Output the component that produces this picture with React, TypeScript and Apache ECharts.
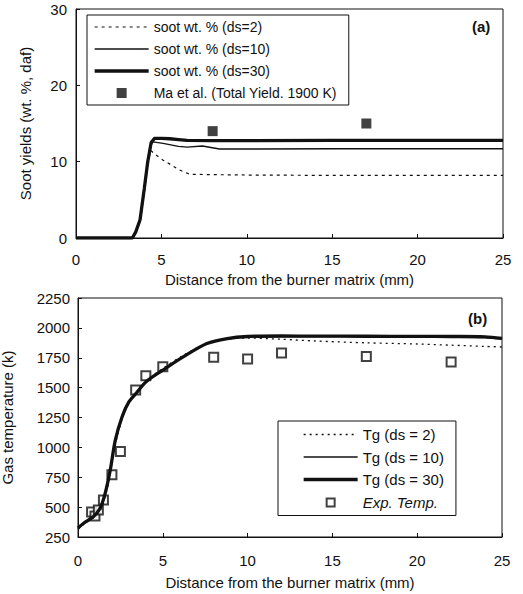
import React, { useEffect, useRef } from "react";
import * as echarts from "echarts";

// ---------- Panel (a): soot yields ----------
const distA2 = [0, 3.3, 3.5, 3.75, 4.0, 4.2, 4.37, 4.6, 5.1, 6.07, 6.66, 8, 10, 15, 20, 25];
const sootDs2 = [0, 0, 0.7, 2.1, 6.0, 9.5, 11.5, 11.0, 10.2, 8.9, 8.35, 8.3, 8.25, 8.2, 8.2, 8.2];
const distA10 = [0, 3.3, 3.5, 3.75, 4.0, 4.2, 4.4, 4.5, 5.1, 6.0, 6.5, 7.4, 8.4, 10, 15, 20, 25];
const sootDs10 = [0, 0, 0.7, 2.2, 6.2, 9.8, 12.2, 12.6, 12.4, 12.0, 11.9, 12.05, 11.66, 11.65, 11.7, 11.7, 11.7];
const distA30 = [0, 3.3, 3.5, 3.75, 4.0, 4.2, 4.4, 4.6, 5.0, 5.5, 6.0, 6.5, 8, 10, 15, 20, 25];
const sootDs30 = [0, 0, 0.8, 2.4, 6.5, 10.0, 12.5, 13.05, 13.05, 13.0, 12.9, 12.8, 12.75, 12.75, 12.8, 12.8, 12.8];
const maDist = [8, 17];
const maYield = [14, 15];

// ---------- Panel (b): gas temperature ----------
const distB = [0, 0.33, 0.9, 1.3, 1.6, 1.9, 2.2, 2.6, 3.0, 3.5, 4.0, 5.0, 6.2, 7.6, 8.8, 10, 12, 14, 17, 20, 22, 24, 25];
const tgDs2 = [315, 355, 410, 470, 585, 770, 1020, 1235, 1370, 1465, 1555, 1660, 1770, 1870, 1905, 1915, 1905, 1890, 1875, 1865, 1855, 1845, 1840];
const tgDs10 = [320, 360, 415, 480, 600, 790, 1040, 1245, 1375, 1460, 1545, 1645, 1757, 1868, 1910, 1925, 1928, 1928, 1927, 1925, 1924, 1920, 1908];
const tgDs30 = [325, 365, 420, 490, 615, 810, 1060, 1256, 1380, 1465, 1548, 1646, 1757, 1869, 1911, 1928, 1932, 1931, 1930, 1929, 1928, 1925, 1912];
const expDist = [0.8, 1.0, 1.2, 1.5, 2.0, 2.5, 3.4, 4.0, 5.0, 8.0, 10.0, 12.0, 17.0, 22.0];
const expTemp = [460, 425, 475, 560, 770, 965, 1480, 1600, 1675, 1755, 1740, 1790, 1760, 1715];

const xTitle = "Distance from the burner matrix (mm)";
const yTitleA = "Soot yields (wt. %, daf)";
const yTitleB = "Gas temperature (k)";
const namesA = ["soot wt. % (ds=2)", "soot wt. % (ds=10)", "soot wt. % (ds=30)", "Ma et al. (Total Yield. 1900 K)"];
const namesB = ["Tg (ds = 2)", "Tg (ds = 10)", "Tg (ds = 30)", "Exp. Temp."];

const zip = (xs: number[], ys: number[]) => xs.map((x, i) => [x, ys[i]]);

const FONT = "Liberation Sans";
const BLACK = "#111";

const STYLE_DS2_A = { color: BLACK, width: 1.2, type: [3, 4] as number[] };
const STYLE_DS2_B = { color: BLACK, width: 1.3, type: [2, 4] as number[] };
const STYLE_DS10 = { color: BLACK, width: 1.4, type: "solid" };
const STYLE_DS30 = { color: BLACK, width: 3.3, type: "solid" };

function axisCommon() {
  return {
    axisLine: { show: true, lineStyle: { color: BLACK, width: 1 } },
    axisTick: { show: true, inside: true, length: 4, lineStyle: { color: BLACK } },
    splitLine: { show: false },
    axisLabel: { color: BLACK, fontFamily: FONT, fontSize: 15, formatter: (v: number) => String(v) },
    nameTextStyle: { color: BLACK, fontFamily: FONT, fontSize: 15 },
  };
}

const lineLegend = (name: string, lineStyle: any) => ({ name, itemStyle: { opacity: 0 }, lineStyle });

export default function App() {
  const ref = useRef<HTMLDivElement>(null);
  useEffect(() => {
    if (!ref.current) return;
    const chart = echarts.init(ref.current, undefined, { renderer: "svg" });
    const c = axisCommon();
    chart.setOption({
      animation: false,
      backgroundColor: "#fff",
      grid: [
        { left: 76, top: 9, width: 427, height: 229, show: true, borderColor: BLACK, borderWidth: 1, outerBoundsMode: "none", containLabel: false },
        { left: 78, top: 298, width: 424, height: 239, show: true, borderColor: BLACK, borderWidth: 1, outerBoundsMode: "none", containLabel: false },
      ],
      xAxis: [
        {
          ...c, type: "value", gridIndex: 0, min: 0, max: 25, interval: 5,
          axisLabel: { ...c.axisLabel, margin: 14 },
          name: xTitle, nameLocation: "middle", nameGap: 34,
        },
        {
          ...c, type: "value", gridIndex: 1, min: 0, max: 25, interval: 5,
          axisLabel: { ...c.axisLabel, margin: 16 },
          name: xTitle, nameLocation: "middle", nameGap: 38,
        },
      ],
      yAxis: [
        {
          ...c, type: "value", gridIndex: 0, min: 0, max: 30, interval: 10,
          axisLabel: { ...c.axisLabel, margin: 9 },
          name: yTitleA, nameLocation: "middle", nameGap: 43,
        },
        {
          ...c, type: "value", gridIndex: 1, min: 250, max: 2250, interval: 250,
          axisLabel: { ...c.axisLabel, margin: 8 },
          name: yTitleB, nameLocation: "middle", nameGap: 63,
        },
      ],
      legend: [
        {
          left: 87, top: 15, orient: "vertical", itemWidth: 54, itemHeight: 14, itemGap: 8,
          padding: [5, 12, 5, 6], borderColor: BLACK, borderWidth: 1, backgroundColor: "#fff",
          textStyle: { color: BLACK, fontFamily: FONT, fontSize: 14 },
          data: [
            lineLegend(namesA[0], STYLE_DS2_A),
            lineLegend(namesA[1], STYLE_DS10),
            lineLegend(namesA[2], STYLE_DS30),
            { name: namesA[3], icon: "path://M0,0M14,14M2,2h10v10h-10z" },
          ],
        },
        {
          left: 278, top: 421, orient: "vertical", itemWidth: 54, itemHeight: 14, itemGap: 7.5,
          padding: [6, 12, 5, 24], borderColor: BLACK, borderWidth: 1, backgroundColor: "#fff",
          textStyle: { color: BLACK, fontFamily: FONT, fontSize: 15 },
          data: [
            lineLegend(namesB[0], STYLE_DS2_B),
            lineLegend(namesB[1], STYLE_DS10),
            lineLegend(namesB[2], STYLE_DS30),
            { name: namesB[3], icon: "path://M0,0M14,14M3,3h8v8h-8z", textStyle: { fontStyle: "italic" } },
          ],
        },
      ],
      graphic: [
        { type: "text", left: 472, top: 19, style: { text: "(a)", font: `bold 15px ${FONT}`, fill: BLACK } },
        { type: "text", left: 468, top: 311, style: { text: "(b)", font: `bold 15px ${FONT}`, fill: BLACK } },
      ],
      series: [
        {
          name: namesA[0], type: "line", xAxisIndex: 0, yAxisIndex: 0, symbol: "none", color: BLACK,
          lineStyle: STYLE_DS2_A, data: zip(distA2, sootDs2),
        },
        {
          name: namesA[1], type: "line", xAxisIndex: 0, yAxisIndex: 0, symbol: "none", color: BLACK,
          lineStyle: STYLE_DS10, data: zip(distA10, sootDs10),
        },
        {
          name: namesA[2], type: "line", xAxisIndex: 0, yAxisIndex: 0, symbol: "none", color: BLACK,
          lineStyle: STYLE_DS30, data: zip(distA30, sootDs30),
        },
        {
          name: namesA[3], type: "scatter", xAxisIndex: 0, yAxisIndex: 0, symbol: "rect", symbolSize: 10,
          itemStyle: { color: BLACK }, data: zip(maDist, maYield),
        },
        {
          name: namesB[0], type: "line", xAxisIndex: 1, yAxisIndex: 1, symbol: "none", smooth: 0.3, color: BLACK,
          lineStyle: STYLE_DS2_B, data: zip(distB, tgDs2),
        },
        {
          name: namesB[1], type: "line", xAxisIndex: 1, yAxisIndex: 1, symbol: "none", smooth: 0.3, color: BLACK,
          lineStyle: STYLE_DS10, data: zip(distB, tgDs10),
        },
        {
          name: namesB[2], type: "line", xAxisIndex: 1, yAxisIndex: 1, symbol: "none", smooth: 0.3, color: BLACK,
          lineStyle: STYLE_DS30, data: zip(distB, tgDs30),
        },
        {
          name: namesB[3], type: "scatter", xAxisIndex: 1, yAxisIndex: 1, symbol: "rect", symbolSize: 9,
          itemStyle: { color: "#fff", borderColor: BLACK, borderWidth: 2 }, data: zip(expDist, expTemp),
        },
      ],
    });
    return () => chart.dispose();
  }, []);
  return (
    <div
      ref={ref}
      style={{ position: "fixed", left: 0, top: 0, width: 523, height: 594, background: "#fff" }}
    />
  );
}
